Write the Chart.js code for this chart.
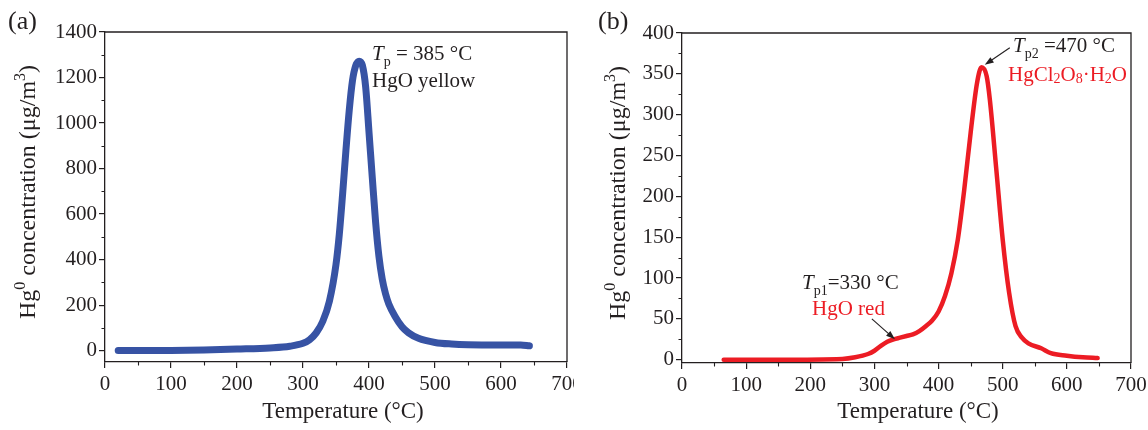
<!DOCTYPE html>
<html>
<head>
<meta charset="utf-8">
<script src="https://cdn.jsdelivr.net/npm/chart.js@4.4.0/dist/chart.umd.min.js"></script>
<style>
html, body { margin: 0; padding: 0; background: #fff; }
#wrap { position: relative; width: 1148px; height: 430px; }
canvas { position: absolute; top: 0; }
</style>
</head>
<body>
<div id="wrap">
  <canvas id="chartA" width="574" height="430" style="left:0"></canvas>
  <canvas id="chartB" width="574" height="430" style="left:574px"></canvas>
</div>
<script>
// axis ticks
const xTicks = [0, 100, 200, 300, 400, 500, 600, 700];
const xMinor = [50, 150, 250, 350, 450, 550, 650];
const yTicksA = [0, 200, 400, 600, 800, 1000, 1200, 1400];
const yMinorA = [100, 300, 500, 700, 900, 1100, 1300];
const yTicksB = [0, 50, 100, 150, 200, 250, 300, 350, 400];
const yMinorB = [25, 75, 125, 175, 225, 275, 325, 375];

// (a) HgO yellow
const tempA = [20, 50, 100, 150, 200, 250, 280, 300, 310, 320, 330, 340, 350, 355, 360, 365, 370, 375, 380, 385,
               390, 395, 400, 405, 410, 415, 420, 425, 430, 440, 450, 460, 475, 500, 525, 550, 600, 630, 643];
const concA = [0, 0, 1, 3, 7, 12, 19, 32, 48, 78, 129, 217, 379, 511, 687, 878, 1054, 1187, 1253, 1272,
               1253, 1157, 960, 760, 565, 415, 315, 250, 205, 148, 105, 78, 54, 36, 29, 26, 25, 25, 21];

// (b) HgO red + HgCl2O8.H2O
const tempB = [65, 150, 250, 270, 290, 300, 310, 320, 330, 340, 350, 360, 370, 380, 390, 400, 410, 420, 430, 440,
               450, 460, 467, 475, 480, 490, 500, 510, 520, 530, 540, 560, 575, 600, 625, 648];
const concB = [0, 0, 1, 3, 7, 11, 17, 22, 25, 27, 29, 31, 35, 41, 48, 59, 78, 106, 147, 208,
               278, 339, 358, 347, 318, 233, 147, 82, 41, 27, 20, 14, 8, 5, 3, 2];

const SERIF = '"Liberation Serif", "Times New Roman", "DejaVu Serif", serif';
const INK = '#231f20';
const BLUE = '#3753a4';
const RED = '#ec1c24';

function partFont(p, size) {
    let fs = size;
    if (p.sub || p.sup || p.lo) fs = Math.round(size * 0.68);
    return (p.it ? 'italic ' : '') + fs + 'px ' + SERIF;
}
function partDy(p, size) {
    if (p.sub) return size * 0.3;
    if (p.sup) return -size * 0.42;
    if (p.lo) return size * 0.08;
    return 0;
}
function richWidth(ctx, parts, size) {
    let w = 0;
    parts.forEach(p => { ctx.font = partFont(p, size); w += ctx.measureText(p.t).width; });
    return w;
}
function drawRich(ctx, x, y, parts, size, color) {
    let cx = x;
    ctx.textAlign = 'left';
    ctx.textBaseline = 'alphabetic';
    parts.forEach(p => {
        ctx.font = partFont(p, size);
        ctx.fillStyle = p.color || color;
        ctx.fillText(p.t, cx, y + partDy(p, size));
        cx += ctx.measureText(p.t).width;
    });
}
function arrow(ctx, x1, y1, x2, y2) {
    const a = Math.atan2(y2 - y1, x2 - x1), L = 9, W = 3.2;
    const c = Math.cos(a), s = Math.sin(a);
    ctx.strokeStyle = INK;
    ctx.fillStyle = INK;
    ctx.lineWidth = 1.1;
    ctx.beginPath();
    ctx.moveTo(x1, y1);
    ctx.lineTo(x2 - L * 0.7 * c, y2 - L * 0.7 * s);
    ctx.stroke();
    ctx.beginPath();
    ctx.moveTo(x2, y2);
    ctx.lineTo(x2 - L * c + W * s, y2 - L * s - W * c);
    ctx.lineTo(x2 - L * c - W * s, y2 - L * s + W * c);
    ctx.closePath();
    ctx.fill();
}

const yTitle = [{ t: 'Hg' }, { t: '0', sup: true }, { t: ' concentration (μg/m' }, { t: '3', sup: true }, { t: ')' }];
const xTitle = [{ t: 'Temperature (°C)' }];

function makeChart(id, p) {
    const decor = {
        id: 'decor',
        afterDraw(chart) {
            const ctx = chart.ctx, a = chart.chartArea;
            const xs = chart.scales.x, ys = chart.scales.y;
            ctx.save();
            // frame top + right
            ctx.strokeStyle = INK;
            ctx.lineWidth = 1.3;
            ctx.beginPath();
            ctx.moveTo(a.left, a.top);
            ctx.lineTo(a.right, a.top);
            ctx.lineTo(a.right, a.bottom);
            ctx.stroke();
            // minor ticks
            ctx.lineWidth = 1.1;
            ctx.beginPath();
            xMinor.forEach(v => {
                const px = Math.round(xs.getPixelForValue(v)) + 0.5;
                ctx.moveTo(px, a.bottom);
                ctx.lineTo(px, a.bottom + 3.5);
            });
            p.yMinor.forEach(v => {
                const py = Math.round(ys.getPixelForValue(v)) + 0.5;
                ctx.moveTo(a.left, py);
                ctx.lineTo(a.left - 3.5, py);
            });
            ctx.stroke();
            // y title
            const tsize = 24;
            ctx.save();
            ctx.translate(a.left - p.yTitleOff, (a.top + a.bottom) / 2 - 5);
            ctx.rotate(-Math.PI / 2);
            const w = richWidth(ctx, yTitle, tsize);
            drawRich(ctx, -w / 2, tsize * 0.33, yTitle, tsize, INK);
            ctx.restore();
            // x title
            const wx = richWidth(ctx, xTitle, 23);
            drawRich(ctx, p.xTitleX - wx / 2, 418, xTitle, 23, INK);
            // panel label
            drawRich(ctx, p.labelX, 29, [{ t: p.label }], 26, INK);
            p.notes(ctx, xs, ys);
            ctx.restore();
        }
    };
    return new Chart(document.getElementById(id), {
        type: 'line',
        data: {
            datasets: [{
                data: p.temp.map((t, i) => ({ x: t, y: p.conc[i] })),
                borderColor: p.color,
                borderWidth: p.width,
                pointRadius: 0,
                cubicInterpolationMode: 'monotone',
                borderCapStyle: 'round',
                borderJoinStyle: 'round',
                fill: false
            }]
        },
        options: {
            responsive: false,
            animation: false,
            devicePixelRatio: 1,
            layout: { padding: p.pad },
            plugins: { legend: { display: false }, tooltip: { enabled: false } },
            scales: {
                x: {
                    type: 'linear', min: 0, max: 700,
                    afterBuildTicks: s => { s.ticks = xTicks.map(v => ({ value: v })); },
                    afterFit: s => { s.height = p.xAxisH; s.paddingLeft = 0; s.paddingRight = 0; },
                    grid: { drawOnChartArea: false, tickLength: 6, color: INK, lineWidth: 1.2 },
                    border: { color: INK, width: 1.3 },
                    ticks: { autoSkip: false, maxRotation: 0, padding: 4, color: INK,
                             font: { family: SERIF, size: 21 }, callback: v => String(v) }
                },
                y: {
                    type: 'linear', min: p.yMin, max: p.yMax,
                    afterBuildTicks: s => { s.ticks = p.yTicks.map(v => ({ value: v })); },
                    afterFit: s => { s.width = p.yAxisW; s.paddingTop = 0; s.paddingBottom = 0; },
                    grid: { drawOnChartArea: false, tickLength: 6, color: INK, lineWidth: 1.2 },
                    border: { color: INK, width: 1.3 },
                    ticks: { padding: 2, color: INK, font: { family: SERIF, size: 21 }, callback: v => String(v) }
                }
            }
        },
        plugins: [decor]
    });
}

makeChart('chartA', {
    temp: tempA, conc: concA, color: BLUE, width: 7,
    yMin: -50, yMax: 1400, yTicks: yTicksA, yMinor: yMinorA,
    yAxisW: 105, xAxisH: 68, pad: { left: 0, top: 32, right: 7, bottom: 0 },
    yTitleOff: 78, xTitleX: 343, label: '(a)', labelX: 8,
    notes(ctx, xs, ys) {
        drawRich(ctx, 372, 60, [{ t: 'T', it: true }, { t: 'p', sub: true }, { t: ' = 385 °C' }], 21, INK);
        drawRich(ctx, 372, 87, [{ t: 'HgO yellow' }], 21, INK);
    }
});

makeChart('chartB', {
    temp: tempB, conc: concB, color: RED, width: 4.5,
    yMin: -4, yMax: 400, yTicks: yTicksB, yMinor: yMinorB,
    yAxisW: 108, xAxisH: 67, pad: { left: 0, top: 33, right: 17, bottom: 0 },
    yTitleOff: 65, xTitleX: 344, label: '(b)', labelX: 24,
    notes(ctx, xs, ys) {
        drawRich(ctx, 439, 52, [{ t: 'T', it: true }, { t: 'p2', sub: true }, { t: ' =470 °C' }], 21, INK);
        arrow(ctx, xs.getPixelForValue(511), ys.getPixelForValue(382), xs.getPixelForValue(472), ys.getPixelForValue(361));
        drawRich(ctx, 434, 81, [{ t: 'HgCl' }, { t: '2', lo: true }, { t: 'O' }, { t: '8', lo: true }, { t: '·H' }, { t: '2', lo: true }, { t: 'O' }], 21, RED);
        drawRich(ctx, 228, 289, [{ t: 'T', it: true }, { t: 'p1', sub: true }, { t: '=330 °C' }], 21, INK);
        drawRich(ctx, 238, 315, [{ t: 'HgO red' }], 21, RED);
        arrow(ctx, xs.getPixelForValue(296), ys.getPixelForValue(50), xs.getPixelForValue(332), ys.getPixelForValue(25));
    }
});
</script>
</body>
</html>
